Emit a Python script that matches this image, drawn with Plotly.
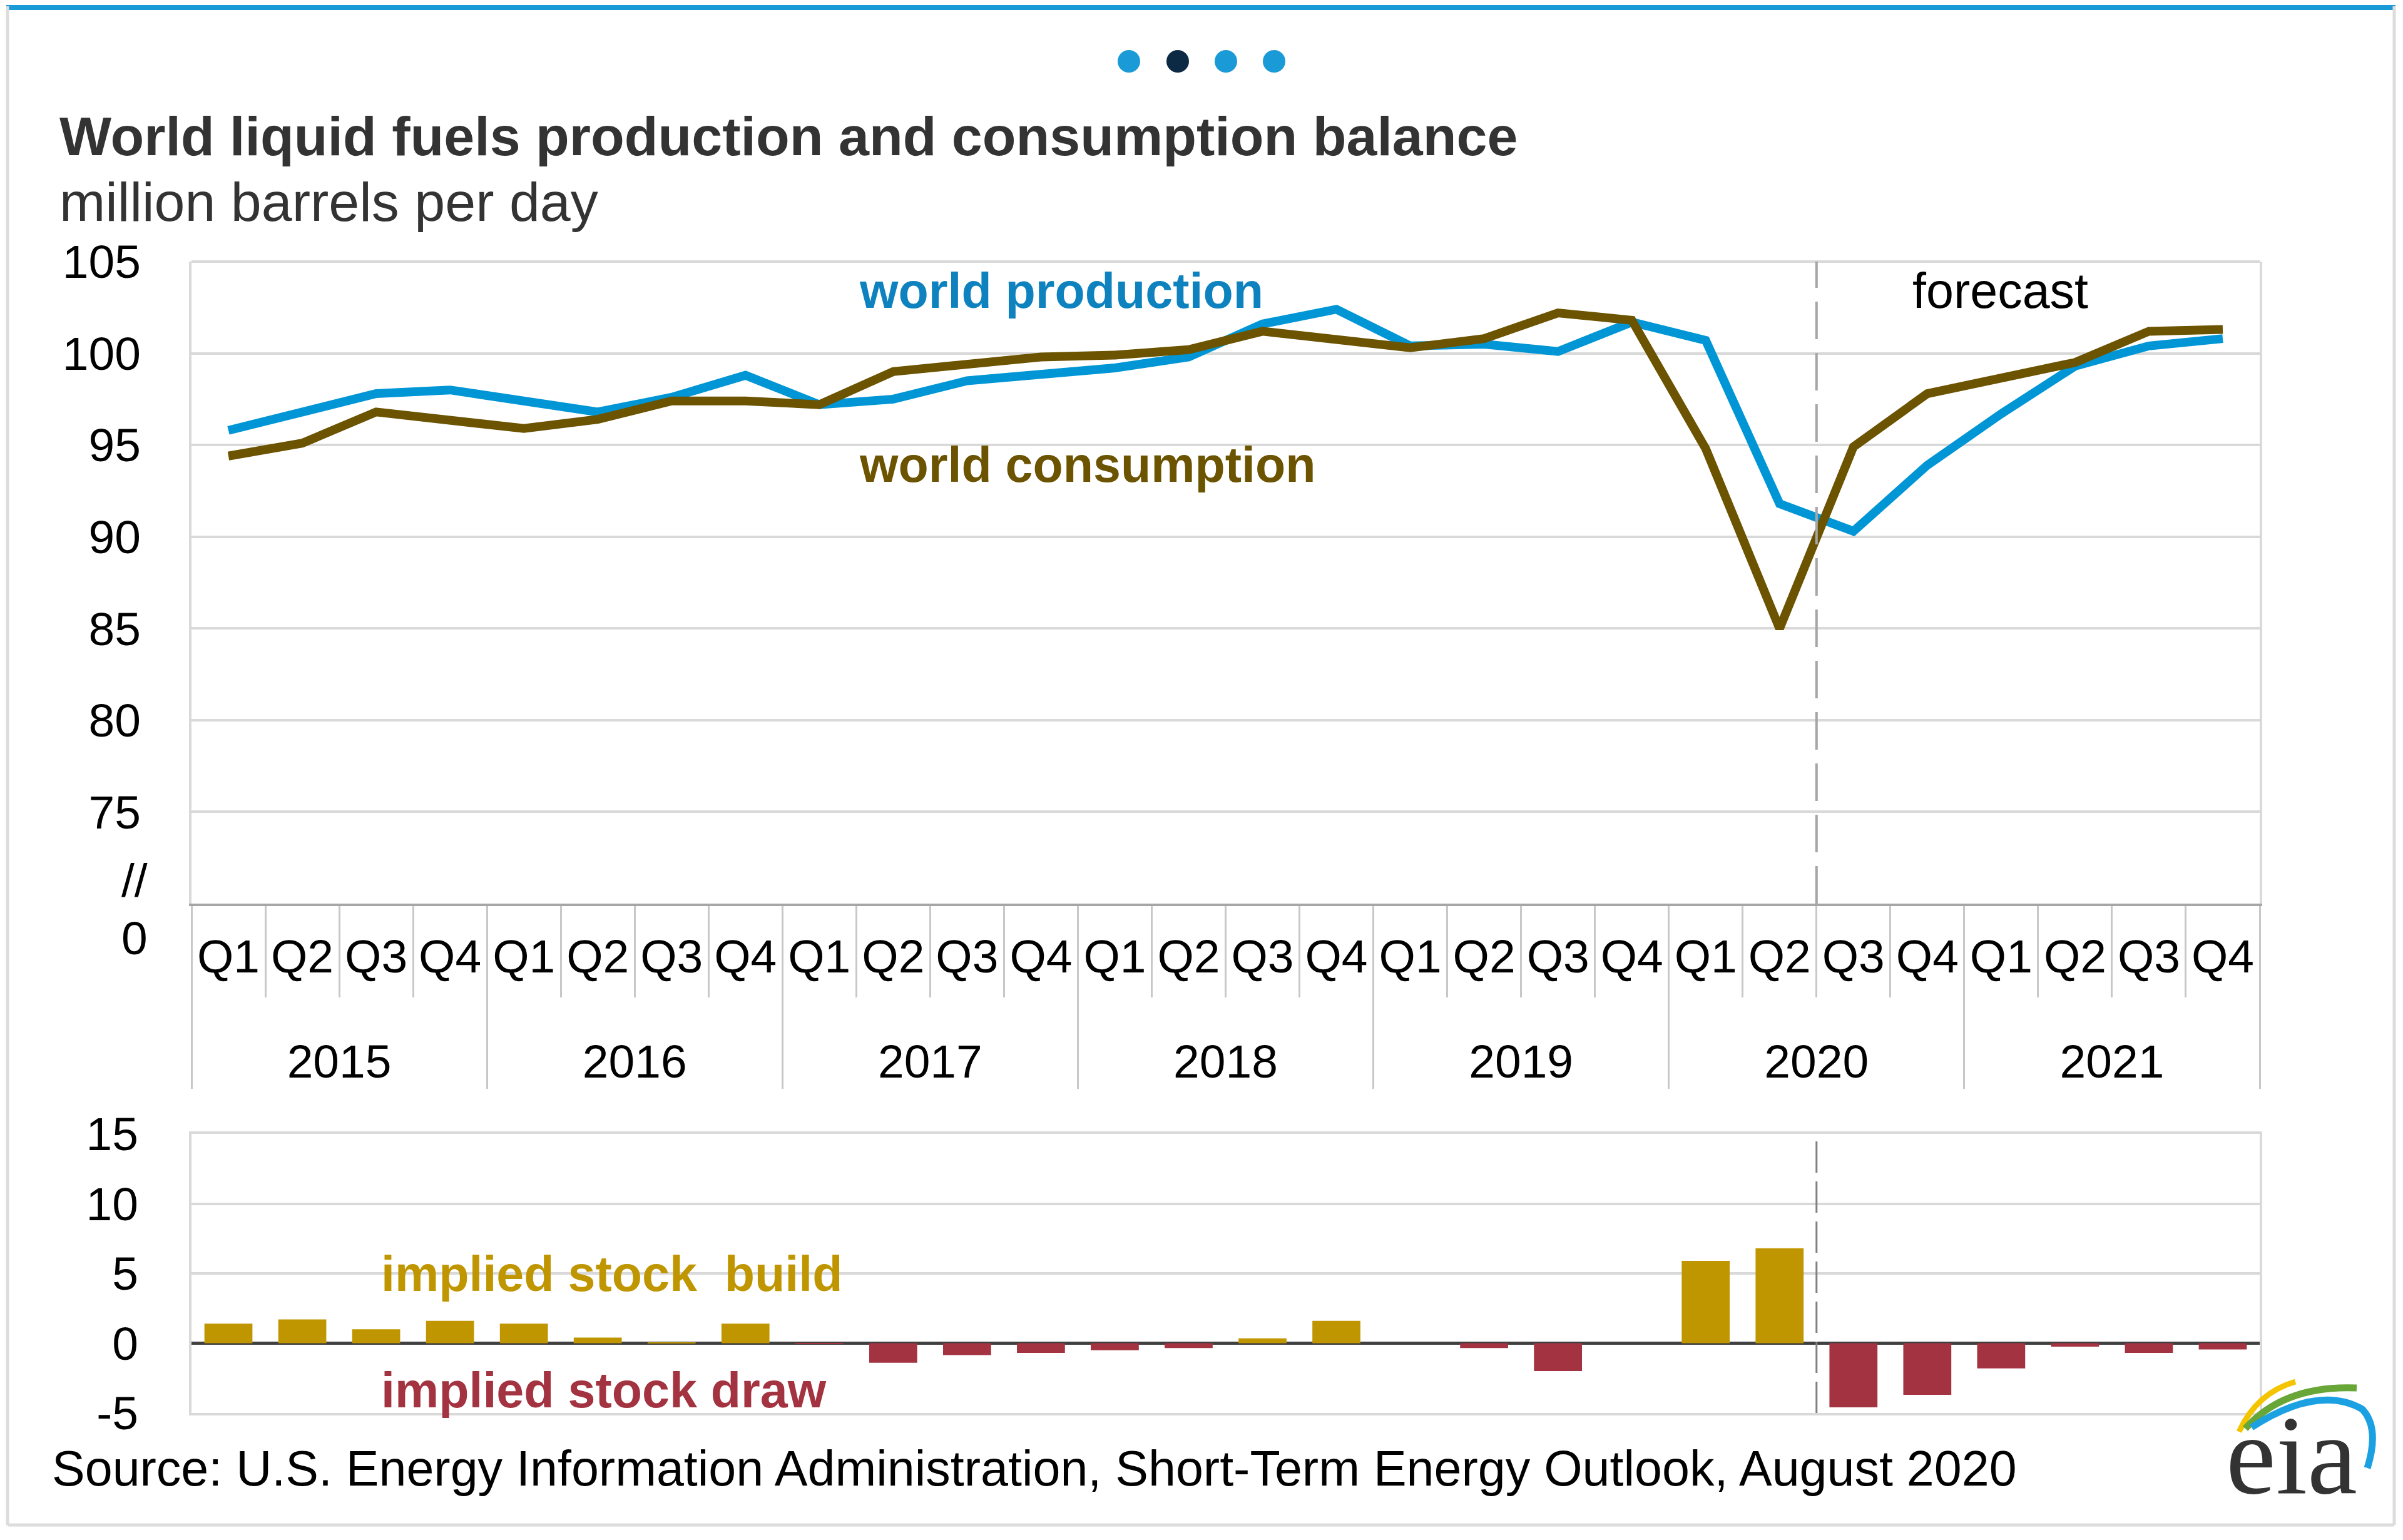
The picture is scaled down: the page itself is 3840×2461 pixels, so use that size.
import plotly.graph_objects as go

# page is offset by the browser's default 8px body margin; the figure fills the rest
OFF = 8
FW, FH = 3840 - OFF, 2461 - OFF


def px(x):
    return (x - OFF) / FW


def py(y):
    return 1 - (y - OFF) / FH


# ---------------- data ----------------
years = ["2015", "2016", "2017", "2018", "2019", "2020", "2021"]
quarters = ["Q1", "Q2", "Q3", "Q4"]

world_production = [95.8, 96.8, 97.8, 98.0, 97.4, 96.8, 97.6, 98.8,
                    97.2, 97.5, 98.5, 98.9, 99.2, 99.8, 101.6, 102.4,
                    100.4, 100.5, 100.1, 101.7, 100.7, 91.8, 90.3, 93.9,
                    96.7, 99.3, 100.4, 100.8]
world_consumption = [94.4, 95.1, 96.8, 96.3, 95.9, 96.4, 97.4, 97.4,
                     97.2, 99.0, 99.4, 99.8, 99.9, 100.2, 101.2, 100.8,
                     100.3, 100.8, 102.2, 101.8, 94.8, 85.0, 94.9, 97.8,
                     98.7, 99.5, 101.2, 101.3]
implied_stock_change = [1.4, 1.7, 1.0, 1.6, 1.4, 0.4, 0.05, 1.4,
                        -0.05, -1.4, -0.85, -0.7, -0.5, -0.35, 0.35, 1.6,
                        0.0, -0.35, -2.0, 0.0, 5.9, 6.8, -4.6, -3.7,
                        -1.8, -0.25, -0.7, -0.45]
forecast_start = ("2020", "Q3")

top_ticks = [75, 80, 85, 90, 95, 100, 105]
bottom_ticks = [-5, 0, 5, 10, 15]
bottom_tick_text = ["-5", "0", "5", "10", "15"]

# ---------------- styling ----------------
FONT = "Liberation Sans, Arial, sans-serif"
BLUE = "#0096D6"
BROWN = "#6B5300"
GOLD = "#C09600"
RED = "#A33340"
GRID = "#d9d9d9"

# outer (year) labels are pushed one line down so they sit under the quarter labels
year_label = {y: "<br>" + y for y in years}
cat_years = [year_label[y] for y in years for q in quarters]
cat_quarters = [q for y in years for q in quarters]
x_mc = [cat_years, cat_quarters]
boundary = list(zip(cat_years, cat_quarters)).index((year_label[forecast_start[0]], forecast_start[1])) - 0.5
n_cat = len(cat_years)

bar_colors = [GOLD if v >= 0 else RED for v in implied_stock_change]

fig = go.Figure()
fig.add_trace(go.Scatter(x=x_mc, y=world_production, mode="lines",
                         line=dict(color=BLUE, width=14), xaxis="x", yaxis="y",
                         name="world production"))
fig.add_trace(go.Scatter(x=x_mc, y=world_consumption, mode="lines",
                         line=dict(color=BROWN, width=14), xaxis="x", yaxis="y",
                         name="world consumption"))
fig.add_trace(go.Bar(x=x_mc, y=implied_stock_change, marker=dict(color=bar_colors, line=dict(width=0)),
                     xaxis="x2", yaxis="y2", name="implied stock change"))

XDOM = [px(306), px(3611)]

fig.update_layout(
    width=FW, height=FH,
    margin=dict(l=0, r=0, t=0, b=0, autoexpand=False),
    paper_bgcolor="white", plot_bgcolor="white",
    showlegend=False,
    bargap=0.35,
    font=dict(family=FONT, color="black"),
    xaxis=dict(
        type="multicategory", domain=XDOM, anchor="y", automargin=False,
        range=[-0.5, n_cat - 0.5],
        showline=True, linecolor="#a6a6a6", linewidth=4,
        ticks="outside", tickson="boundaries", ticklen=146,
        tickcolor="#c8c8c8", tickwidth=3,
        showdividers=True, dividercolor="#c8c8c8", dividerwidth=3,
        tickfont=dict(size=75, color="black", family=FONT),
        ticklabelstandoff=16,
        showgrid=False, zeroline=False,
    ),
    yaxis=dict(
        domain=[py(1444), py(418)], anchor="x", automargin=False,
        range=[70, 105], tickvals=top_ticks,
        showgrid=True, gridcolor=GRID, gridwidth=4,
        showline=True, linecolor=GRID, linewidth=4, mirror=True,
        ticks="", ticklabelstandoff=62,
        tickfont=dict(size=75, color="black", family=FONT),
        zeroline=False,
    ),
    xaxis2=dict(
        type="multicategory", domain=XDOM, anchor="y2", automargin=False,
        range=[-0.5, n_cat - 0.5],
        showticklabels=False, ticks="",
        showline=True, linecolor=GRID, linewidth=4, mirror=True,
        showdividers=False, showgrid=False, zeroline=False,
    ),
    yaxis2=dict(
        domain=[py(2258), py(1812)], anchor="x2", automargin=False,
        range=[-5, 15], tickvals=bottom_ticks, ticktext=bottom_tick_text,
        showgrid=True, gridcolor=GRID, gridwidth=4,
        showline=True, linecolor=GRID, linewidth=4, mirror=True,
        zeroline=True, zerolinecolor="#404040", zerolinewidth=5,
        ticks="", ticklabelstandoff=66,
        tickfont=dict(size=75, color="black", family=FONT),
    ),
)

shapes = []
# top border of the upper panel
shapes.append(dict(type="line", xref="x domain", yref="y domain", x0=0, x1=1, y0=1, y1=1,
                   line=dict(color=GRID, width=4), layer="below"))
# forecast dividers
shapes.append(dict(type="line", xref="x", yref="y", x0=boundary, x1=boundary, y0=70, y1=105,
                   line=dict(color="#a6a6a6", width=4, dash="60px,22px"), layer="above"))
shapes.append(dict(type="line", xref="x2", yref="y2", x0=boundary, x1=boundary, y0=-5, y1=15,
                   line=dict(color="#808080", width=3, dash="50px,14px"), layer="above"))
# frame
shapes.append(dict(type="rect", xref="paper", yref="paper", x0=px(10), x1=px(3828), y0=py(16), y1=py(OFF),
                   fillcolor="#1a9ad6", line=dict(width=0)))
for (x0, y0, x1, y1) in [(12, 10, 12, 2437), (3826, 10, 3826, 2437), (12, 2437, 3826, 2437)]:
    shapes.append(dict(type="line", xref="paper", yref="paper", x0=px(x0), x1=px(x1), y0=py(y0), y1=py(y1),
                       line=dict(color="#dcdcdc", width=5)))
# page dots
for cx, col in [(1804, "#1a9ad6"), (1882, "#0c2a44"), (1959, "#1a9ad6"), (2036, "#1a9ad6")]:
    shapes.append(dict(type="circle", xref="paper", yref="paper",
                       x0=px(cx - 18), x1=px(cx + 18), y0=py(98 + 18), y1=py(98 - 18),
                       fillcolor=col, line=dict(width=0)))


def ppath(cmds):
    out = []
    for c in cmds:
        if isinstance(c, str):
            out.append(c)
        else:
            out.append(f"{px(c[0]):.5f},{py(c[1]):.5f}")
    return " ".join(out)


# eia logo arcs
shapes.append(dict(type="path", xref="paper", yref="paper",
                   path=ppath(["M", (3578, 2288), "Q", (3606, 2226), (3668, 2208)]),
                   line=dict(color="#F5C400", width=9)))
shapes.append(dict(type="path", xref="paper", yref="paper",
                   path=ppath(["M", (3588, 2283), "Q", (3650, 2213), (3766, 2218)]),
                   line=dict(color="#67A637", width=11)))
shapes.append(dict(type="path", xref="paper", yref="paper",
                   path=ppath(["M", (3598, 2281), "Q", (3705, 2212), (3775, 2252), "Q", (3803, 2282), (3783, 2346)]),
                   line=dict(color="#1BA1E2", width=11)))
fig.update_layout(shapes=shapes)

ann = []


def text(x, y, t, size, color="black", bold=False, xanchor="left", family=FONT):
    ann.append(dict(xref="paper", yref="paper", x=px(x), y=py(y), text=(f"<b>{t}</b>" if bold else t),
                    showarrow=False, xanchor=xanchor, yanchor="middle",
                    font=dict(size=size, color=color, family=family)))


text(93, 218, "World liquid fuels production and consumption balance", 88, "#333333", bold=True)
text(93, 323, "million barrels per day", 88, "#333333")
text(1371, 465, "world production", 79, "#0E82BE", bold=True)
text(1371, 742, "world consumption", 79, BROWN, bold=True)
text(3196, 465, "forecast", 79, "black", xanchor="center")
text(607, 2035, "implied stock\u00a0 build", 79, GOLD, bold=True)
text(607, 2221, "implied stock draw", 79, RED, bold=True)
text(81, 2346, "Source: U.S. Energy Information Administration, Short-Term Energy Outlook, August 2020", 79, "black")
text(3662, 2325, "eia", 180, "#333333", xanchor="center", family="Liberation Serif, Times New Roman, serif")

# broken-axis marks on the top value axis
text(238, 1407, "//", 75, "black", xanchor="right")
text(238, 1499, "0", 75, "black", xanchor="right")

fig.update_layout(annotations=ann)

fig.write_html("out.html")
